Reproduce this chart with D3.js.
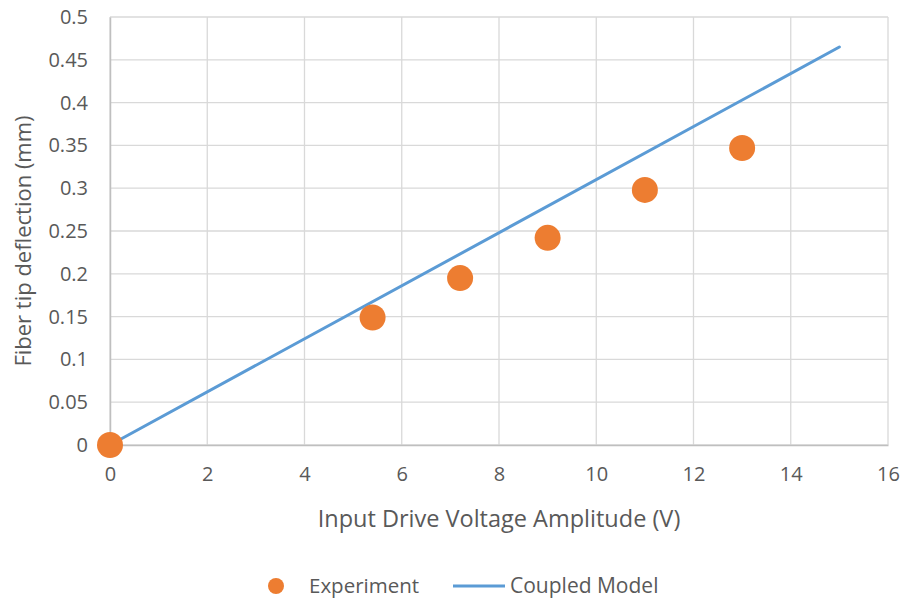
<!DOCTYPE html>
<html>
<head>
<meta charset="utf-8">
<script src="https://cdn.jsdelivr.net/npm/d3@7"></script>
<style>
  body { margin: 0; background: #fff; }
  text { font-family: "Open Sans", "Liberation Sans", sans-serif; fill: #595959; }
</style>
</head>
<body>
<div id="chart"></div>
<script>
// experiment measurements
const expVoltage = [0, 5.4, 7.2, 9, 11, 13];
const expDeflection = [0, 0.149, 0.195, 0.242, 0.298, 0.347];

// coupled model (straight line)
const modelVoltage = [0, 15];
const modelDeflection = [0, 0.465];

const xTicks = [0, 2, 4, 6, 8, 10, 12, 14, 16];
const yTicks = [0, 0.05, 0.1, 0.15, 0.2, 0.25, 0.3, 0.35, 0.4, 0.45, 0.5];

const width = 907, height = 601;
const margin = { left: 110, right: 19, top: 17, bottom: 156 };

const svg = d3.select("#chart").append("svg")
  .attr("width", width)
  .attr("height", height);

const x = d3.scaleLinear().domain([0, 16]).range([margin.left, width - margin.right]);
const y = d3.scaleLinear().domain([0, 0.5]).range([height - margin.bottom, margin.top]);

// gridlines
svg.append("g")
  .selectAll("line.h")
  .data(yTicks)
  .enter().append("line")
  .attr("x1", x(0)).attr("x2", x(16))
  .attr("y1", d => y(d)).attr("y2", d => y(d))
  .attr("stroke", "#d9d9d9").attr("stroke-width", 1.3);

svg.append("g")
  .selectAll("line.v")
  .data(xTicks)
  .enter().append("line")
  .attr("x1", d => x(d)).attr("x2", d => x(d))
  .attr("y1", y(0)).attr("y2", y(0.5))
  .attr("stroke", "#d9d9d9").attr("stroke-width", 1.3);

// axes
const xAxis = svg.append("g")
  .attr("transform", `translate(0,${y(0)})`)
  .call(d3.axisBottom(x).tickValues(xTicks).tickSize(0).tickPadding(22).tickFormat(d3.format("d")));
xAxis.select(".domain").attr("stroke", "#bfbfbf").attr("stroke-width", 1.5);
xAxis.selectAll("text").style("font-size", "20px").attr("fill", "#595959");

const yAxis = svg.append("g")
  .attr("transform", `translate(${x(0)},0)`)
  .call(d3.axisLeft(y).tickValues(yTicks).tickSize(0).tickPadding(22).tickFormat(d => String(+d.toFixed(2))));
yAxis.select(".domain").attr("stroke", "#bfbfbf").attr("stroke-width", 1.5);
yAxis.selectAll("text").style("font-size", "20px").attr("fill", "#595959");

// model line
const line = d3.line().x(d => x(d[0])).y(d => y(d[1]));
svg.append("path")
  .datum(d3.zip(modelVoltage, modelDeflection))
  .attr("d", line)
  .attr("fill", "none")
  .attr("stroke", "#5B9BD5")
  .attr("stroke-width", 3)
  .attr("stroke-linecap", "round");

// experiment points
svg.append("g")
  .selectAll("circle")
  .data(d3.zip(expVoltage, expDeflection))
  .enter().append("circle")
  .attr("cx", d => x(d[0]))
  .attr("cy", d => y(d[1]))
  .attr("r", 13)
  .attr("fill", "#ED7D31");

// axis titles
svg.append("text")
  .attr("x", (x(0) + x(16)) / 2)
  .attr("y", 527)
  .attr("text-anchor", "middle")
  .style("font-size", "23.5px")
  .text("Input Drive Voltage Amplitude (V)");

svg.append("text")
  .attr("transform", `translate(31,${(y(0) + y(0.5)) / 2 + 10}) rotate(-90)`)
  .attr("text-anchor", "middle")
  .style("font-size", "22px")
  .text("Fiber tip deflection (mm)");

// legend
const leg = svg.append("g").attr("transform", "translate(0,586)");
leg.append("circle").attr("cx", 276).attr("cy", 0).attr("r", 8).attr("fill", "#ED7D31");
leg.append("text").attr("x", 309).attr("y", 7).style("font-size", "20.5px").text("Experiment");
leg.append("line").attr("x1", 453).attr("x2", 505).attr("y1", 0).attr("y2", 0)
  .attr("stroke", "#5B9BD5").attr("stroke-width", 3);
leg.append("text").attr("x", 510).attr("y", 7).style("font-size", "21px").text("Coupled Model");
</script>
</body>
</html>
